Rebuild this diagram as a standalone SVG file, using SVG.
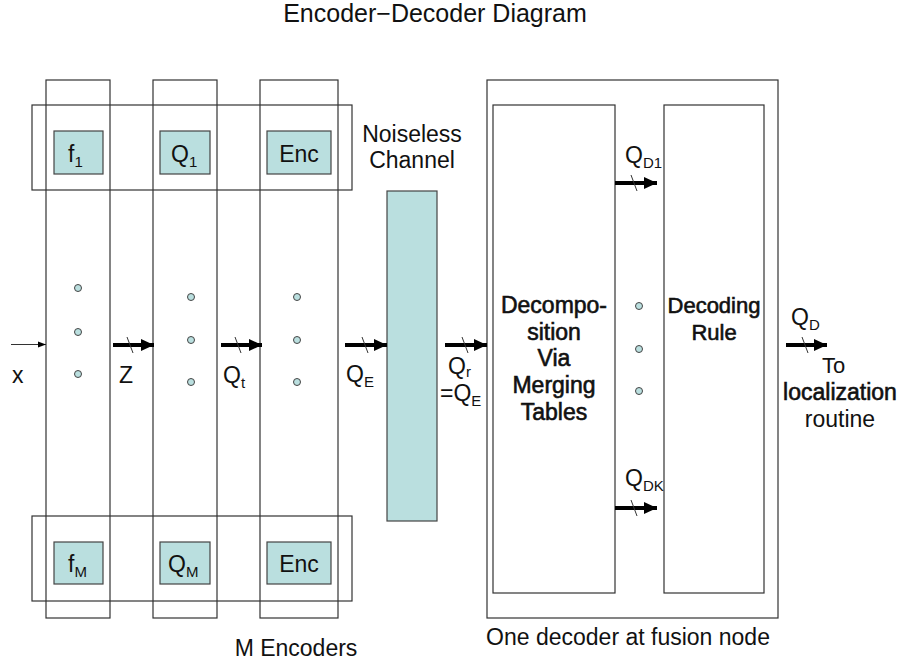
<svg xmlns="http://www.w3.org/2000/svg" width="901" height="663" viewBox="0 0 901 663">
<style>
.frame{fill:none;stroke:#333;stroke-width:1.2}
.box{fill:#badfdf;stroke:#444;stroke-width:1.2}
.dot{fill:#badfdf;stroke:#444;stroke-width:1}
.t{font-family:"Liberation Sans",Arial,sans-serif;fill:#111}
.lbl{font-size:23px}
.sub{font-size:15px}
.bold{stroke:#111;stroke-width:0.6}
.thick{stroke:#000;stroke-width:4;fill:none}
.slash{stroke:#333;stroke-width:1}
</style>
<defs>
<marker id="ahT" markerWidth="8" markerHeight="8" refX="8" refY="4" orient="auto" markerUnits="userSpaceOnUse">
<path d="M0,1 L8,4 L0,7 z" fill="#000"/>
</marker>
<marker id="ahB" markerWidth="14" markerHeight="14" refX="13" refY="7" orient="auto" markerUnits="userSpaceOnUse">
<path d="M0,1 L13,7 L0,13 z" fill="#000"/>
</marker>
</defs>

<text class="t" x="435" y="22" font-size="25" text-anchor="middle">Encoder−Decoder Diagram</text>

<g id="encoders">
<rect class="frame" x="46" y="80" width="64" height="538"/>
<rect class="frame" x="153" y="80" width="64" height="538"/>
<rect class="frame" x="260" y="80" width="78" height="538"/>
<rect class="frame" x="32" y="105" width="320" height="85"/>
<rect class="frame" x="32" y="516" width="320" height="85"/>
</g>

<g id="f1"><rect class="box" x="54" y="131" width="49" height="43"/>
<text class="t lbl" x="68" y="162">f<tspan class="sub" dy="5">1</tspan></text></g>
<g id="q1"><rect class="box" x="160" y="131" width="50" height="43"/>
<text class="t lbl" x="171" y="162">Q<tspan class="sub" dy="5">1</tspan></text></g>
<g id="enc1"><rect class="box" x="267" y="131" width="64" height="43"/>
<text class="t lbl" x="299" y="162" text-anchor="middle">Enc</text></g>

<g id="fM"><rect class="box" x="54" y="542" width="49" height="42"/>
<text class="t lbl" x="68" y="572">f<tspan class="sub" dy="5">M</tspan></text></g>
<g id="qM"><rect class="box" x="160" y="542" width="50" height="42"/>
<text class="t lbl" x="168" y="572">Q<tspan class="sub" dy="5">M</tspan></text></g>
<g id="encM"><rect class="box" x="267" y="542" width="64" height="42"/>
<text class="t lbl" x="299" y="572" text-anchor="middle">Enc</text></g>

<g id="dots">
<circle class="dot" cx="78" cy="288" r="3.5"/><circle class="dot" cx="78" cy="332" r="3.5"/><circle class="dot" cx="78" cy="374" r="3.5"/>
<circle class="dot" cx="191" cy="297" r="3.5"/><circle class="dot" cx="191" cy="340" r="3.5"/><circle class="dot" cx="191" cy="382" r="3.5"/>
<circle class="dot" cx="297" cy="297" r="3.5"/><circle class="dot" cx="297" cy="340" r="3.5"/><circle class="dot" cx="297" cy="382" r="3.5"/>
<circle class="dot" cx="639" cy="306" r="3.5"/><circle class="dot" cx="639" cy="349" r="3.5"/><circle class="dot" cx="639" cy="391" r="3.5"/>
</g>

<g id="channel">
<rect class="box" x="387" y="191" width="50" height="330"/>
<text class="t" font-size="23" x="412" y="142" text-anchor="middle">Noiseless</text>
<text class="t" font-size="23" x="412" y="168" text-anchor="middle">Channel</text>
</g>

<g id="decoder">
<rect class="frame" x="487" y="80" width="291" height="538"/>
<rect class="frame" x="493" y="105" width="122" height="488"/>
<rect class="frame" x="664" y="105" width="100" height="488"/>
</g>
<g id="decomp">
<text class="t bold" font-size="23" text-anchor="middle" x="554">
<tspan x="554" y="313">Decompo-</tspan><tspan x="554" y="340">sition</tspan><tspan x="554" y="366">Via</tspan><tspan x="554" y="393">Merging</tspan><tspan x="554" y="420">Tables</tspan>
</text>
</g>
<g id="decrule">
<text class="t bold" font-size="22" text-anchor="middle" x="714">
<tspan x="714" y="313">Decoding</tspan><tspan x="714" y="340">Rule</tspan>
</text>
</g>

<g id="connectors">
<line x1="11" y1="344.5" x2="46" y2="344.5" stroke="#333" stroke-width="1" marker-end="url(#ahT)"/>
<line class="thick" x1="113" y1="345" x2="154" y2="345" marker-end="url(#ahB)"/>
<line class="slash" x1="127" y1="337" x2="133" y2="353"/>
<line class="thick" x1="221" y1="345" x2="262" y2="345" marker-end="url(#ahB)"/>
<line class="slash" x1="235" y1="337" x2="241" y2="353"/>
<line class="thick" x1="345" y1="345" x2="387" y2="345" marker-end="url(#ahB)"/>
<line class="slash" x1="362" y1="337" x2="368" y2="353"/>
<line class="thick" x1="445" y1="345" x2="487" y2="345" marker-end="url(#ahB)"/>
<line class="slash" x1="462" y1="337" x2="468" y2="353"/>
<line class="thick" x1="615" y1="183" x2="657" y2="183" marker-end="url(#ahB)"/>
<line class="slash" x1="631" y1="175" x2="637" y2="191"/>
<line class="thick" x1="615" y1="508" x2="657" y2="508" marker-end="url(#ahB)"/>
<line class="slash" x1="631" y1="500" x2="637" y2="516"/>
<line class="thick" x1="786" y1="345" x2="827" y2="345" marker-end="url(#ahB)"/>
<line class="slash" x1="802" y1="337" x2="808" y2="353"/>
</g>

<g id="labels">
<text class="t lbl" x="12" y="383">x</text>
<text class="t lbl" x="119" y="383">Z</text>
<text class="t lbl" x="223" y="383">Q<tspan class="sub" dy="5">t</tspan></text>
<text class="t lbl" x="346" y="382">Q<tspan class="sub" dy="5">E</tspan></text>
<text class="t lbl" x="448" y="374">Q<tspan class="sub" dy="3">r</tspan></text>
<text class="t lbl" x="440" y="401">=Q<tspan class="sub" dy="5">E</tspan></text>
<text class="t lbl" x="625" y="163">Q<tspan class="sub" dy="5">D1</tspan></text>
<text class="t lbl" x="625" y="486">Q<tspan class="sub" dy="5">DK</tspan></text>
<text class="t lbl" x="791" y="325">Q<tspan class="sub" dy="5">D</tspan></text>
<text class="t" font-size="22" x="822" y="373">To</text>
<text class="t bold" font-size="23" x="840" y="400" text-anchor="middle">localization</text>
<text class="t" font-size="23" x="840" y="427" text-anchor="middle">routine</text>
<text class="t" font-size="23" x="296" y="656" text-anchor="middle">M Encoders</text>
<text class="t" font-size="23" x="628" y="645" text-anchor="middle">One decoder at fusion node</text>
</g>
</svg>
